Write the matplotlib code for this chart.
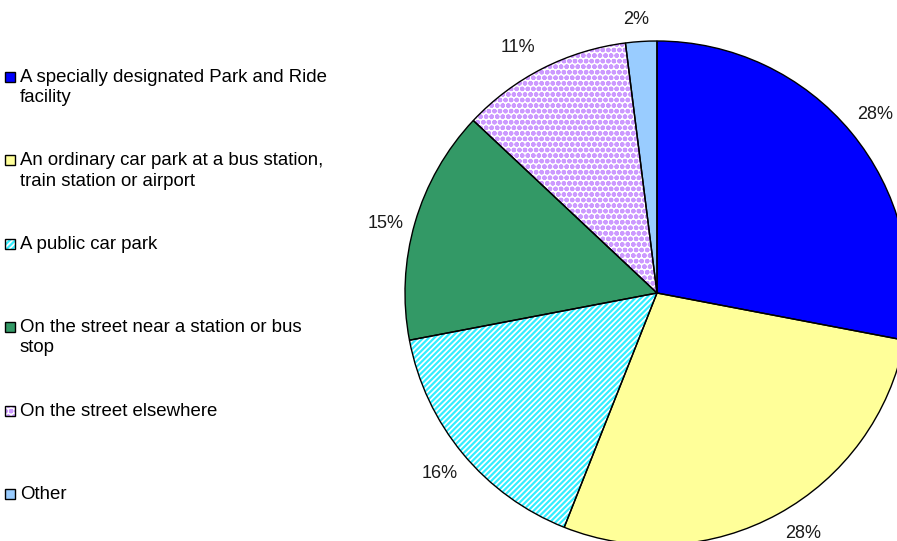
import numpy as np
import matplotlib
matplotlib.use("Agg")
import matplotlib.pyplot as plt
from matplotlib.patches import Rectangle

plt.rcParams['font.family'] = ['Liberation Sans', 'DejaVu Sans']
plt.rcParams['hatch.linewidth'] = 1.6

categories = [
    "A specially designated Park and Ride\nfacility",
    "An ordinary car park at a bus station,\ntrain station or airport",
    "A public car park",
    "On the street near a station or bus\nstop",
    "On the street elsewhere",
    "Other",
]
shares = [28, 28, 16, 15, 11, 2]
face_colors = ["#0000FF", "#FFFF99", "#FFFFFF", "#339966", "#FFFFFF", "#99CCFF"]
hatch_colors = ["#0000FF", "#FFFF99", "#33EEFF", "#339966", "#CC99FF", "#99CCFF"]
hatches = [None, None, "//////", None, "ooo", None]

# label placement: radius factor and angular nudge (degrees) per slice
label_radius = [1.118, 1.115, 1.12, 1.112, 1.12, 1.087]
label_nudge = [-0.3, 2.5, 0.1, 1.9, 2.6, 0.8]

W, H = 897, 541
fig = plt.figure(figsize=(W / 100, H / 100), dpi=100)
ax = fig.add_axes([0, 0, 1, 1])

cx, cy, r = 657, H - 293, 252

# fill layer (hatching drawn in the hatch colour)
wedges, _ = ax.pie(shares, colors=face_colors, startangle=90, counterclock=False,
                   center=(cx, cy), radius=r, frame=True,
                   wedgeprops=dict(linewidth=0))
for w, hc, h in zip(wedges, hatch_colors, hatches):
    w.set_edgecolor(hc)
    if h:
        w.set_hatch(h)

# outline layer with percentage labels
outl, _, pcts = ax.pie(shares, colors=["none"] * len(shares), startangle=90,
                       counterclock=False, center=(cx, cy), radius=r, frame=True,
                       autopct=lambda p: f"{p:.0f}%", pctdistance=1.115,
                       wedgeprops=dict(linewidth=1.0, edgecolor="black", fill=False),
                       textprops=dict(fontsize=13, color="#1a1a1a"))
for w, t, rf, nd in zip(outl, pcts, label_radius, label_nudge):
    mid = np.deg2rad((w.theta1 + w.theta2) / 2 + nd)
    t.set_position((cx + rf * r * np.cos(mid), cy + rf * r * np.sin(mid)))

ax.set_xlim(0, W)
ax.set_ylim(0, H)
ax.set_aspect('equal')
ax.axis('off')

# legend column
y0 = 77
step = 83.4
for i, (lab, fc, hc, h) in enumerate(zip(categories, face_colors, hatch_colors, hatches)):
    y = H - (y0 + i * step)
    ax.add_patch(Rectangle((5, y - 5), 10, 10, facecolor=fc, edgecolor=hc, hatch=h,
                           lw=0, clip_on=False))
    ax.add_patch(Rectangle((5, y - 5), 10, 10, fill=False, edgecolor="black", lw=1.0,
                           clip_on=False))
    ax.text(20, y + 8, lab, ha="left", va="top",
            fontsize=13.4, color="#000000", linespacing=1.24)

fig.savefig("out.png", dpi=100)
